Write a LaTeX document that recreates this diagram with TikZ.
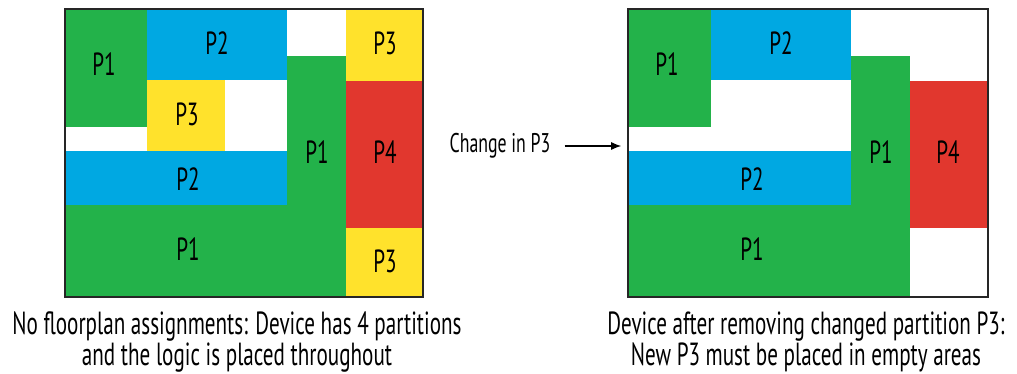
\documentclass[tikz,border=0pt]{standalone}
\usepackage{fontspec}
\setmainfont{PT Sans}[FakeStretch=0.66]
\usetikzlibrary{arrows.meta}
\definecolor{partgreen}{RGB}{35,178,74}
\definecolor{partblue}{RGB}{0,168,226}
\definecolor{partyellow}{RGB}{255,226,44}
\definecolor{partred}{RGB}{225,55,46}
\tikzset{
  lbl/.style={font=\fontsize{32}{32}\selectfont, inner sep=0pt},
  frame/.style={draw=black!85, line width=1.6pt, inner sep=0pt, minimum height=288pt},
  capt/.style={font=\fontsize{32}{26}\selectfont, align=center, inner sep=0pt}
}
\begin{document}
\begin{tikzpicture}[x=1pt, y=-1pt]
\useasboundingbox (0,0) rectangle (1017,374);
% Left device
\fill[partgreen] (65,9) rectangle (147,127);
\fill[partblue] (147,9) rectangle (287,80);
\fill[partyellow] (147,80) rectangle (225,152);
\fill[partblue] (65,151) rectangle (287,205);
\fill[partgreen] (287,56) rectangle (346,205);
\fill[partgreen] (65,205) rectangle (346,297);
\fill[partyellow] (346,9) rectangle (423,81);
\fill[partred] (346,81) rectangle (423,228);
\fill[partyellow] (346,228) rectangle (423,297);
\node[frame, minimum width=358pt] (ldev) at (244,153) {};
\node[lbl] (lp1a) at (104,64) {P1};
\node[lbl] (lp2a) at (217,43) {P2};
\node[lbl] (lp3a) at (187,114) {P3};
\node[lbl] (lp2b) at (188,179) {P2};
\node[lbl] (lp1b) at (317,152) {P1};
\node[lbl] (lp1c) at (188,249) {P1};
\node[lbl] (lp3b) at (385,43) {P3};
\node[lbl] (lp4) at (385,152) {P4};
\node[lbl] (lp3c) at (385,261) {P3};
% Right device
\fill[partgreen] (628,9) rectangle (711,127);
\fill[partblue] (711,9) rectangle (851,80);
\fill[partblue] (628,151) rectangle (851,205);
\fill[partgreen] (851,56) rectangle (910,205);
\fill[partgreen] (628,205) rectangle (910,297);
\fill[partred] (910,81) rectangle (988,228);
\node[frame, minimum width=360pt] (rdev) at (808,153) {};
\node[lbl] (rp1a) at (667,64) {P1};
\node[lbl] (rp2a) at (781,43) {P2};
\node[lbl] (rp2b) at (752,179) {P2};
\node[lbl] (rp1b) at (881,152) {P1};
\node[lbl] (rp4) at (948,152) {P4};
\node[lbl] (rp1c) at (752,249) {P1};
% Change arrow
\node[lbl, font=\fontsize{27}{27}\selectfont] (chg) at (500,146) {Change in P3};
\coordinate (tip) at ([xshift=-6pt]rdev.west |- chg);
\draw[line width=1.2pt, -{Latex[length=10pt,width=8pt]}] ([xshift=14pt]chg.east) -- (tip);
% Captions
\node[capt, anchor=north] (lcap) at (237,312) {No floorplan assignments: Device has 4 partitions\\and the logic is placed throughout};
\node[capt, anchor=north] (rcap) at (806,312) {Device after removing changed partition P3:\\New P3 must be placed in empty areas};
\end{tikzpicture}
\end{document}
